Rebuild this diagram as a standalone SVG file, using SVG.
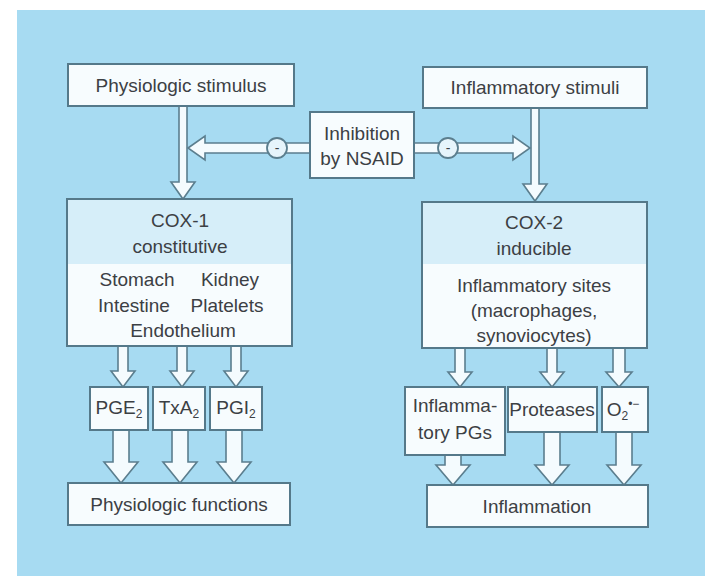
<svg xmlns="http://www.w3.org/2000/svg" width="707" height="576" viewBox="0 0 707 576">
<defs>
<style>
.bx{fill:#f7fcfe;stroke:#55798a;stroke-width:2}
.hd{fill:#d6eef9;stroke:none}
.ar{fill:#f4fbfe;stroke:#5b7e8e;stroke-width:1.6;stroke-linejoin:miter}
.t{font-family:"Liberation Sans",Arial,sans-serif;font-size:19px;fill:#3c4044;text-anchor:middle}
.sub{font-size:12px}
.cir{fill:#e6f4fb;stroke:#5b7e8e;stroke-width:1.8}
</style>
</defs>
<rect x="0" y="0" width="707" height="576" fill="#ffffff"/>
<rect x="17" y="10" width="688" height="566" fill="#a7dbf2"/>

<g id="connectors">
<path class="ar" d="M179,106 L179,182 L171,182 L183,199 L195,182 L187,182 L187,106"/>
<path class="ar" d="M531,108 L531,184 L523,184 L535,201 L547,184 L539,184 L539,108"/>
<path class="ar" d="M188,148 L205,136 L205,143 L513,143 L513,136 L530,148 L513,160 L513,153 L205,153 L205,160 Z"/>
<path class="ar" d="M118,346 L118,371 L111,371 L123,387 L135,371 L128,371 L128,346"/>
<path class="ar" d="M177,346 L177,371 L170,371 L182,387 L194,371 L187,371 L187,346"/>
<path class="ar" d="M231,346 L231,371 L224,371 L236,387 L248,371 L241,371 L241,346"/>
<path class="ar" d="M113,430 L113,462 L104,462 L121,483 L138,462 L129,462 L129,430"/>
<path class="ar" d="M172,430 L172,462 L163,462 L180,483 L197,462 L188,462 L188,430"/>
<path class="ar" d="M226,430 L226,462 L217,462 L234,483 L251,462 L242,462 L242,430"/>
<path class="ar" d="M455,348 L455,372 L448,372 L460,387 L472,372 L465,372 L465,348"/>
<path class="ar" d="M547,348 L547,372 L540,372 L552,387 L564,372 L557,372 L557,348"/>
<path class="ar" d="M613,348 L613,372 L606,372 L619,387 L632,372 L625,372 L625,348"/>
<path class="ar" d="M445,455 L445,465 L436,465 L453,485 L470,465 L461,465 L461,455"/>
<path class="ar" d="M544,432 L544,465 L535,465 L552,485 L569,465 L560,465 L560,432"/>
<path class="ar" d="M616,432 L616,465 L607,465 L624,485 L641,465 L632,465 L632,432"/>
<circle class="cir" cx="277" cy="148" r="10"/>
<text class="t" x="277" y="153" style="font-size:14px">-</text>
<circle class="cir" cx="448" cy="148" r="10"/>
<text class="t" x="448" y="153" style="font-size:14px">-</text>
</g>

<g id="physiologic-stimulus">
<rect class="bx" x="68" y="64" width="226" height="42"/>
<text class="t" x="181" y="92">Physiologic stimulus</text>
</g>
<g id="inflammatory-stimuli">
<rect class="bx" x="423" y="67" width="224" height="41"/>
<text class="t" x="535" y="94">Inflammatory stimuli</text>
</g>
<g id="nsaid">
<rect class="bx" x="310" y="112" width="104" height="66"/>
<text class="t" x="362" y="140">Inhibition</text>
<text class="t" x="362" y="165">by NSAID</text>
</g>
<g id="cox1">
<rect class="bx" x="67" y="199" width="225" height="147"/>
<rect class="hd" x="68" y="200" width="223" height="64"/>
<text class="t" x="180" y="227">COX-1</text>
<text class="t" x="180" y="253">constitutive</text>
<text class="t" x="137" y="286">Stomach</text>
<text class="t" x="230" y="286">Kidney</text>
<text class="t" x="134" y="312">Intestine</text>
<text class="t" x="227" y="312">Platelets</text>
<text class="t" x="183" y="337">Endothelium</text>
</g>
<g id="cox2">
<rect class="bx" x="422" y="202" width="225" height="146"/>
<rect class="hd" x="423" y="203" width="223" height="61"/>
<text class="t" x="534" y="229">COX-2</text>
<text class="t" x="534" y="255">inducible</text>
<text class="t" x="534" y="292">Inflammatory sites</text>
<text class="t" x="534" y="317">(macrophages,</text>
<text class="t" x="534" y="342">synoviocytes)</text>
</g>
<g id="pge2">
<rect class="bx" x="90" y="387" width="58" height="43"/>
<text class="t" x="119" y="414">PGE<tspan class="sub" dy="4">2</tspan></text>
</g>
<g id="txa2">
<rect class="bx" x="153" y="387" width="52" height="43"/>
<text class="t" x="179" y="414">TxA<tspan class="sub" dy="4">2</tspan></text>
</g>
<g id="pgi2">
<rect class="bx" x="210" y="387" width="52" height="43"/>
<text class="t" x="236" y="414">PGI<tspan class="sub" dy="4">2</tspan></text>
</g>
<g id="physiologic-functions">
<rect class="bx" x="68" y="483" width="222" height="42"/>
<text class="t" x="179" y="511">Physiologic functions</text>
</g>
<g id="inflammatory-pgs">
<rect class="bx" x="405" y="387" width="100" height="68"/>
<text class="t" x="455" y="412">Inflamma-</text>
<text class="t" x="455" y="439">tory PGs</text>
</g>
<g id="proteases">
<rect class="bx" x="508" y="387" width="89" height="45"/>
<text class="t" x="552" y="416">Proteases</text>
</g>
<g id="superoxide">
<rect class="bx" x="602" y="387" width="46" height="45"/>
<text class="t" x="623" y="416">O<tspan class="sub" dy="4">2</tspan><tspan class="sub" dy="-12">•−</tspan></text>
</g>
<g id="inflammation">
<rect class="bx" x="427" y="485" width="221" height="42"/>
<text class="t" x="537" y="513">Inflammation</text>
</g>
</svg>
